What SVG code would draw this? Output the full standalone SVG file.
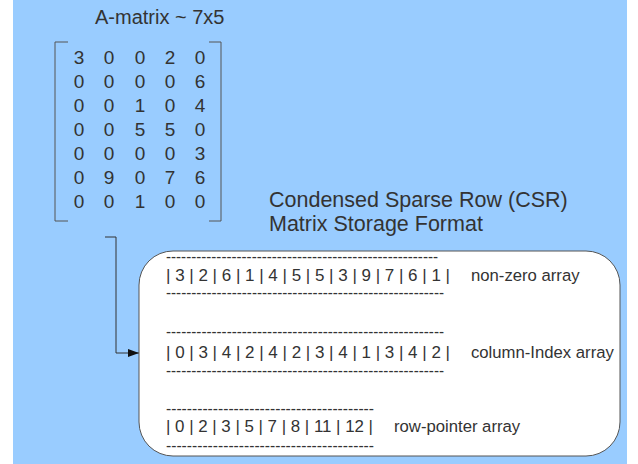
<svg xmlns="http://www.w3.org/2000/svg" width="638" height="464" viewBox="0 0 638 464">
  <defs>
    <style>
      .t { font-family: "Liberation Sans", Arial, sans-serif; fill: #333333; }
      .title { font-size: 20px; }
      .cap { font-size: 21.5px; }
      .num { font-size: 19px; text-anchor: middle; }
      .arr { font-size: 16px; }
      .lbl { font-size: 16.7px; }
      .dash { font-size: 16px; }
      .br { fill: none; stroke: #555555; stroke-width: 1; }
      .conn { fill: none; stroke: #333333; stroke-width: 1; }
    </style>
    <marker id="arrow" markerWidth="12" markerHeight="8" refX="11" refY="4" orient="auto" markerUnits="userSpaceOnUse">
      <path d="M0,0 L11,4 L0,8 Z" fill="#111111"/>
    </marker>
  </defs>

  <!-- page background -->
  <rect x="0" y="0" width="638" height="464" fill="#ffffff"/>
  <rect x="13" y="0" width="614" height="464" fill="#99ccff"/>

  <!-- dense matrix -->
  <g id="matrix">
    <text class="t title" x="95" y="24">A-matrix ~ 7x5</text>
    <path class="br" d="M68,42 H55 V221 H68"/>
    <path class="br" d="M209,42 H221 V221 H209"/>
    <g class="t num">
      <text y="64"><tspan x="79">3</tspan><tspan x="109">0</tspan><tspan x="140">0</tspan><tspan x="170">2</tspan><tspan x="200">0</tspan></text>
      <text y="88"><tspan x="79">0</tspan><tspan x="109">0</tspan><tspan x="140">0</tspan><tspan x="170">0</tspan><tspan x="200">6</tspan></text>
      <text y="112"><tspan x="79">0</tspan><tspan x="109">0</tspan><tspan x="140">1</tspan><tspan x="170">0</tspan><tspan x="200">4</tspan></text>
      <text y="136"><tspan x="79">0</tspan><tspan x="109">0</tspan><tspan x="140">5</tspan><tspan x="170">5</tspan><tspan x="200">0</tspan></text>
      <text y="160"><tspan x="79">0</tspan><tspan x="109">0</tspan><tspan x="140">0</tspan><tspan x="170">0</tspan><tspan x="200">3</tspan></text>
      <text y="184"><tspan x="79">0</tspan><tspan x="109">9</tspan><tspan x="140">0</tspan><tspan x="170">7</tspan><tspan x="200">6</tspan></text>
      <text y="208"><tspan x="79">0</tspan><tspan x="109">0</tspan><tspan x="140">1</tspan><tspan x="170">0</tspan><tspan x="200">0</tspan></text>
    </g>
  </g>

  <!-- format caption -->
  <g id="caption">
    <text class="t cap" x="269" y="207">Condensed Sparse Row (CSR)</text>
    <text class="t cap" x="269" y="231">Matrix Storage Format</text>
  </g>

  <!-- connectors -->
  <g id="connectors">
    <path class="conn" d="M105,237 H116 V353 H139" marker-end="url(#arrow)"/>
  </g>

  <!-- CSR arrays -->
  <g id="csr">
    <rect x="139" y="251" width="481" height="205" rx="34" ry="34" fill="#ffffff" stroke="#555555" stroke-width="1"/>

    <text class="t dash" x="166" y="262" textLength="272" lengthAdjust="spacingAndGlyphs">------------------------------------------------------</text>
    <text class="t arr" x="166" y="281" textLength="284" lengthAdjust="spacingAndGlyphs">| 3 | 2 | 6 | 1 | 4 | 5 | 5 | 3 | 9 | 7 | 6 | 1 |</text>
    <text class="t dash" x="166" y="298" textLength="278" lengthAdjust="spacingAndGlyphs">-------------------------------------------------------</text>
    <text class="t lbl" x="471" y="281">non-zero array</text>

    <text class="t dash" x="166" y="337" textLength="278" lengthAdjust="spacingAndGlyphs">-------------------------------------------------------</text>
    <text class="t arr" x="166" y="358" textLength="284" lengthAdjust="spacingAndGlyphs">| 0 | 3 | 4 | 2 | 4 | 2 | 3 | 4 | 1 | 3 | 4 | 2 |</text>
    <text class="t dash" x="166" y="376" textLength="278" lengthAdjust="spacingAndGlyphs">-------------------------------------------------------</text>
    <text class="t lbl" x="471" y="358">column-Index array</text>

    <text class="t dash" x="166" y="414" textLength="208" lengthAdjust="spacingAndGlyphs">----------------------------------------</text>
    <text class="t arr" x="166" y="432" textLength="207" lengthAdjust="spacingAndGlyphs">| 0 | 2 | 3 | 5 | 7 | 8 | 11 | 12 |</text>
    <text class="t dash" x="166" y="451" textLength="208" lengthAdjust="spacingAndGlyphs">----------------------------------------</text>
    <text class="t lbl" x="394" y="432">row-pointer array</text>
  </g>
</svg>
